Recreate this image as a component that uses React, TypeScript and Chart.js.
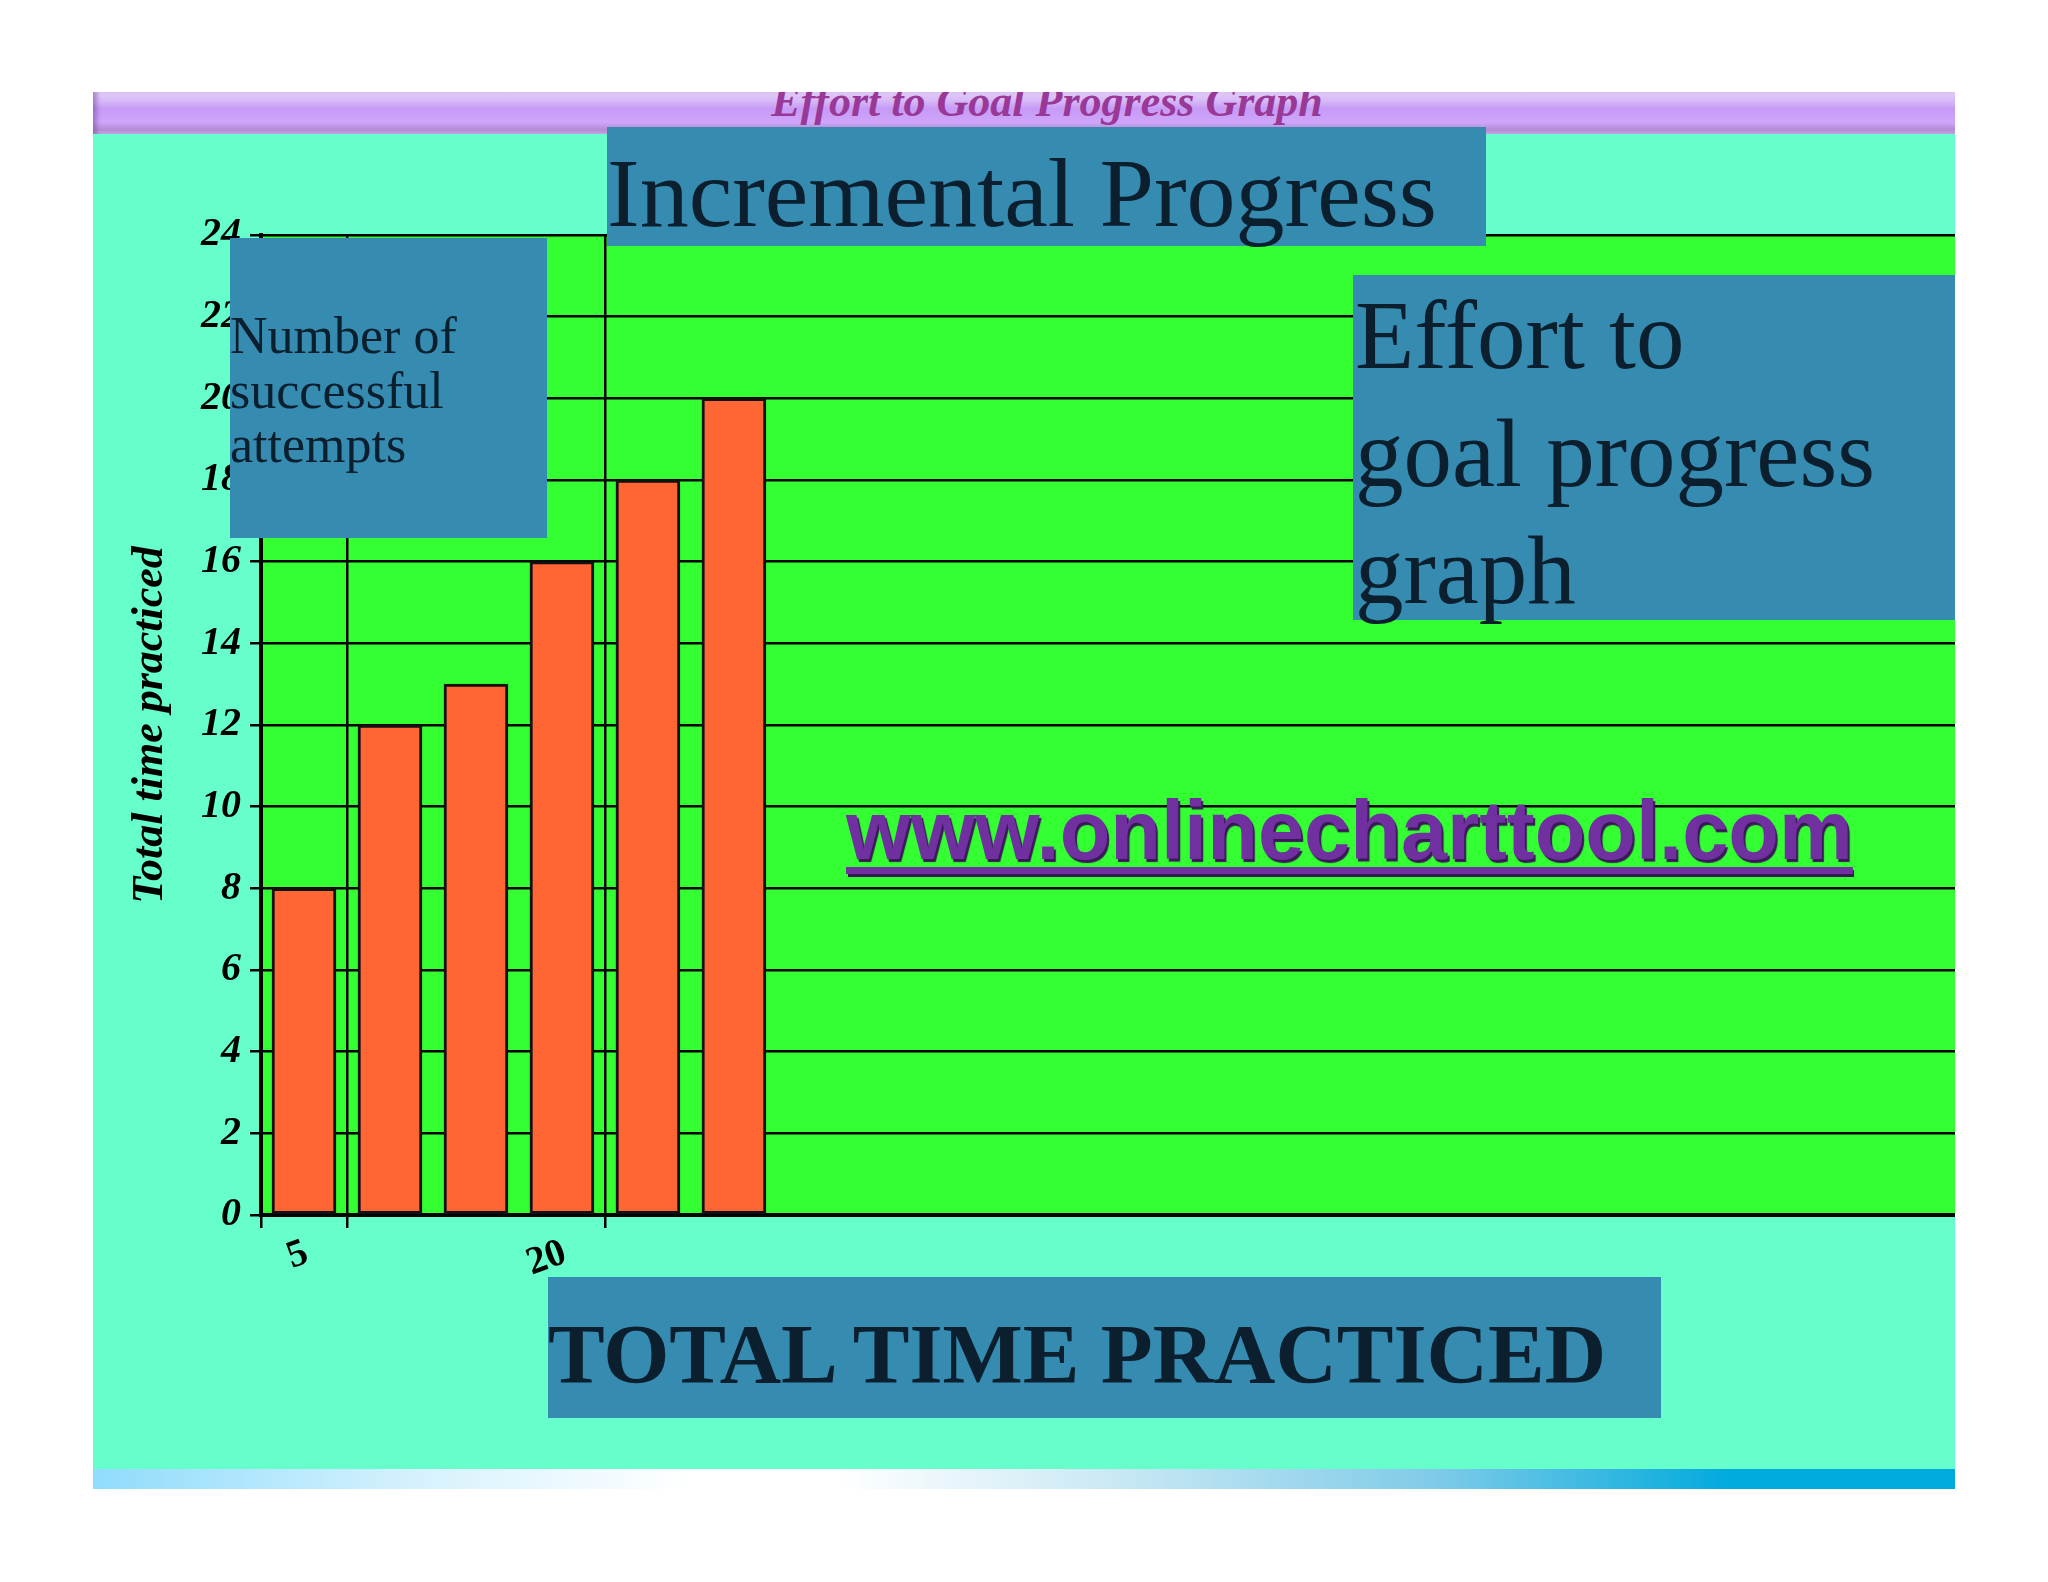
import React, { useEffect, useRef } from "react";
import { Chart, registerables } from "chart.js";
Chart.register(...registerables);

// bars sit in 5-minute bins of practice time
const timeBins = [2.5, 7.5, 12.5, 17.5, 22.5, 27.5];
const successfulAttempts = [8, 12, 13, 16, 18, 20];

const xTickValues = [0, 5, 20];
const xTickLabels = ["", "5", "20"];
const yTickValues = [0, 2, 4, 6, 8, 10, 12, 14, 16, 18, 20, 22, 24];
const yTickLabels = ["0", "2", "4", "6", "8", "10", "12", "14", "16", "18", "20", "22", "24"];

const SERIF = "'Liberation Serif', 'Times New Roman', serif";
const BOX_BLUE = "#368bb0";
const BOX_TEXT = "#0b1f2e";

const plotBackground = {
  id: "plotBackground",
  beforeDraw(chart: any) {
    const { ctx, chartArea } = chart;
    if (!chartArea) return;
    ctx.save();
    ctx.fillStyle = "#33ff33";
    ctx.fillRect(chartArea.left, chartArea.top, chartArea.right - chartArea.left, chartArea.bottom - chartArea.top);
    ctx.restore();
  },
};

const ProgressChart: React.FC = () => {
  const chartRef = useRef<HTMLCanvasElement | null>(null);
  const chartInstanceRef = useRef<Chart | null>(null);

  useEffect(() => {
    if (!chartRef.current) return;
    chartInstanceRef.current = new Chart(chartRef.current, {
      type: "bar",
      data: {
        datasets: [
          {
            label: "Successful attempts",
            data: timeBins.map((t, i) => ({ x: t, y: successfulAttempts[i] })),
            backgroundColor: "#ff6633",
            borderColor: "#111111",
            borderWidth: 3,
            borderSkipped: false,
            barThickness: 64,
          },
        ],
      },
      options: {
        animation: false,
        responsive: true,
        maintainAspectRatio: false,
        layout: { padding: { top: 101, right: 0, bottom: 174, left: 0 } },
        plugins: {
          legend: { display: false },
          tooltip: { enabled: false },
        },
        scales: {
          x: {
            type: "linear",
            min: 0,
            max: 98.5,
            offset: false,
            afterBuildTicks: (scale: any) => {
              scale.ticks = xTickValues.map((v) => ({ value: v }));
            },
            afterFit: (scale: any) => {
              scale.height = 80;
            },
            ticks: {
              autoSkip: false,
              minRotation: 20,
              maxRotation: 20,
              labelOffset: -40,
              padding: 2,
              color: "#000",
              font: { family: SERIF, size: 39, weight: "bold" },
              callback: (value: any) => xTickLabels[xTickValues.indexOf(Number(value))] ?? "",
            },
            grid: {
              offset: false,
              color: "#000",
              lineWidth: 2.5,
              tickLength: 13,
              tickColor: "#000",
              tickWidth: 2.5,
            },
            border: { color: "#000", width: 4 },
          },
          y: {
            min: 0,
            max: 24,
            afterBuildTicks: (scale: any) => {
              scale.ticks = yTickValues.map((v) => ({ value: v }));
            },
            afterFit: (scale: any) => {
              scale.width = 168;
            },
            ticks: {
              padding: 9,
              color: "#000",
              font: { family: SERIF, size: 40, weight: "bold", style: "italic" },
              callback: (value: any) => yTickLabels[yTickValues.indexOf(Number(value))] ?? "",
            },
            grid: { color: "#000", lineWidth: 2.5, tickLength: 11, tickColor: "#000", tickWidth: 2.5 },
            border: { color: "#000", width: 4 },
            title: {
              display: true,
              text: "Total time practiced",
              color: "#000",
              padding: { top: 31, bottom: 0 },
              font: { family: SERIF, size: 44, weight: "bold", style: "italic" },
            },
          },
        },
      },
      plugins: [plotBackground],
    } as any);

    return () => {
      if (chartInstanceRef.current) {
        chartInstanceRef.current.destroy();
        chartInstanceRef.current = null;
      }
    };
  }, []);

  return (
    <div style={{ position: "absolute", left: 93, top: 134, width: 1862, height: 1335 }}>
      <canvas ref={chartRef} />
    </div>
  );
};

const App: React.FC = () => {
  return (
    <div style={{ position: "fixed", inset: 0, background: "#ffffff", overflow: "hidden" }}>
      {/* slide panel */}
      <div style={{ position: "absolute", left: 93, top: 134, width: 1862, height: 1335, background: "#66ffcc" }} />
      <div
        style={{
          position: "absolute",
          left: 93,
          top: 92,
          width: 1862,
          height: 42,
          overflow: "hidden",
          background:
            "linear-gradient(to bottom, #e2cdf8 0%, #d6b8f7 22%, #c69af6 40%, #cfa6fb 72%, #b38bd3 90%, #c9a9e6 100%)",
          boxShadow: "inset 6px 0 4px -2px rgba(120,70,160,0.5)",
        }}
      >
        <div
          style={{
            position: "absolute",
            left: 0,
            width: "100%",
            top: -12,
            textAlign: "center",
            paddingLeft: 46,
            boxSizing: "border-box",
            fontFamily: SERIF,
            fontSize: 44,
            lineHeight: "44px",
            fontStyle: "italic",
            fontWeight: "bold",
            color: "#9a3898",
            whiteSpace: "nowrap",
          }}
        >
          Effort to Goal Progress Graph
        </div>
      </div>
      <div
        style={{
          position: "absolute",
          left: 93,
          top: 1469,
          width: 1862,
          height: 20,
          background:
            "linear-gradient(to right, #90dcfc 0%, #d8f2fd 18%, #ffffff 32%, #ffffff 40%, #c9e8f4 55%, #7fcbe8 72%, #00aadd 88%, #00aadd 100%)",
        }}
      />

      <ProgressChart />

      {/* annotation boxes over the chart */}
      <div
        style={{
          position: "absolute",
          left: 607,
          top: 127,
          width: 879,
          height: 119,
          background: BOX_BLUE,
          color: BOX_TEXT,
          fontFamily: SERIF,
          fontSize: 98,
          lineHeight: "98px",
          paddingTop: 17,
          boxSizing: "border-box",
          whiteSpace: "nowrap",
        }}
      >
        Incremental Progress
      </div>
      <div
        style={{
          position: "absolute",
          left: 230,
          top: 238,
          width: 317,
          height: 300,
          background: BOX_BLUE,
          color: BOX_TEXT,
          fontFamily: SERIF,
          fontSize: 52,
          lineHeight: "54.5px",
          paddingTop: 71,
          boxSizing: "border-box",
          whiteSpace: "nowrap",
        }}
      >
        Number of
        <br />
        successful
        <br />
        attempts
      </div>
      <div
        style={{
          position: "absolute",
          left: 1353,
          top: 275,
          width: 602,
          height: 345,
          background: BOX_BLUE,
          color: BOX_TEXT,
          fontFamily: SERIF,
          fontSize: 97,
          lineHeight: "117.5px",
          paddingTop: 2,
          paddingLeft: 2,
          boxSizing: "border-box",
          whiteSpace: "nowrap",
        }}
      >
        Effort to
        <br />
        goal progress
        <br />
        graph
      </div>
      <div
        style={{
          position: "absolute",
          left: 846,
          top: 790,
          fontFamily: "'Liberation Sans', Arial, sans-serif",
          fontWeight: "bold",
          fontSize: 83,
          lineHeight: "82px",
          color: "#7030a0",
          textDecoration: "underline",
          textDecorationThickness: 7,
          textUnderlineOffset: 8,
          textShadow: "2px 3px 1px #3a1858",
          whiteSpace: "nowrap",
        }}
      >
        www.onlinecharttool.com
      </div>
      <div
        style={{
          position: "absolute",
          left: 548,
          top: 1277,
          width: 1113,
          height: 141,
          background: BOX_BLUE,
          color: BOX_TEXT,
          fontFamily: SERIF,
          fontWeight: "bold",
          fontSize: 85,
          lineHeight: "84px",
          paddingTop: 35,
          boxSizing: "border-box",
          whiteSpace: "nowrap",
        }}
      >
        TOTAL TIME PRACTICED
      </div>
    </div>
  );
};

export default App;
